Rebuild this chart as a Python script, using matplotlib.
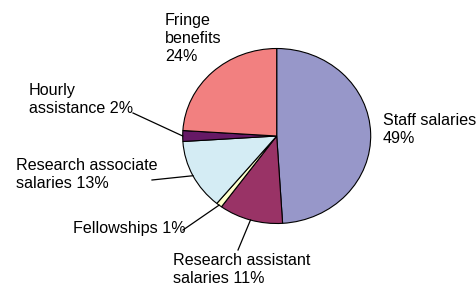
import numpy as np
import matplotlib
matplotlib.use("Agg")
import matplotlib.pyplot as plt

plt.rcParams["font.family"] = ["Liberation Sans", "DejaVu Sans"]

# Budget shares, clockwise from 12 o'clock
categories = [
    "Staff salaries",
    "Research assistant\nsalaries",
    "Fellowships",
    "Research associate\nsalaries",
    "Hourly\nassistance",
    "Fringe\nbenefits",
]
shares = [49, 11, 1, 13, 2, 24]
label_text = [
    "Staff salaries\n49%",
    "Research assistant\nsalaries 11%",
    "Fellowships 1%",
    "Research associate\nsalaries 13%",
    "Hourly\nassistance 2%",
    "Fringe\nbenefits\n24%",
]
colors = ["#9797C9", "#993366", "#FFFFCC", "#D4ECF4", "#661966", "#F28080"]

W, H = 476, 285
CX, CY = 276.7, 136.0   # pie centre, pixels from top-left
RX, RY = 94.0, 87.5     # pie radii in pixels (slightly squashed)

# label anchor (left, top) in pixels, and leader start (None = no leader)
label_pos = [(383, 113), (173, 253), (73, 221), (16, 158), (29, 83), (165, 13)]
leader_out = [None, (238, 250), (183, 230), (152, 180), (133, 113), None]

fig = plt.figure(figsize=(W / 100, H / 100), dpi=100)
ax = fig.add_axes([0, 0, 1, 1])

wedges, _ = ax.pie(
    shares,
    colors=colors,
    startangle=90,
    counterclock=False,
    wedgeprops=dict(edgecolor="black", linewidth=0.8),
)
ax.set_aspect("auto")
ax.set_xlim(-CX / RX, (W - CX) / RX)
ax.set_ylim(-(H - CY) / RY, CY / RY)
ax.axis("off")


def px(x, y):
    return (x - CX) / RX, (CY - y) / RY


for w, txt, pos, lead in zip(wedges, label_text, label_pos, leader_out):
    tx, ty = px(*pos)
    ax.text(tx, ty, txt, ha="left", va="top", fontsize=11.6,
            linespacing=1.24, color="black")
    if lead is not None:
        mid = np.deg2rad((w.theta1 + w.theta2) / 2)
        ex, ey = np.cos(mid), np.sin(mid)
        lx, ly = px(*lead)
        ax.plot([lx, ex], [ly, ey], color="black", linewidth=0.9)

fig.savefig("out.png", dpi=100)
